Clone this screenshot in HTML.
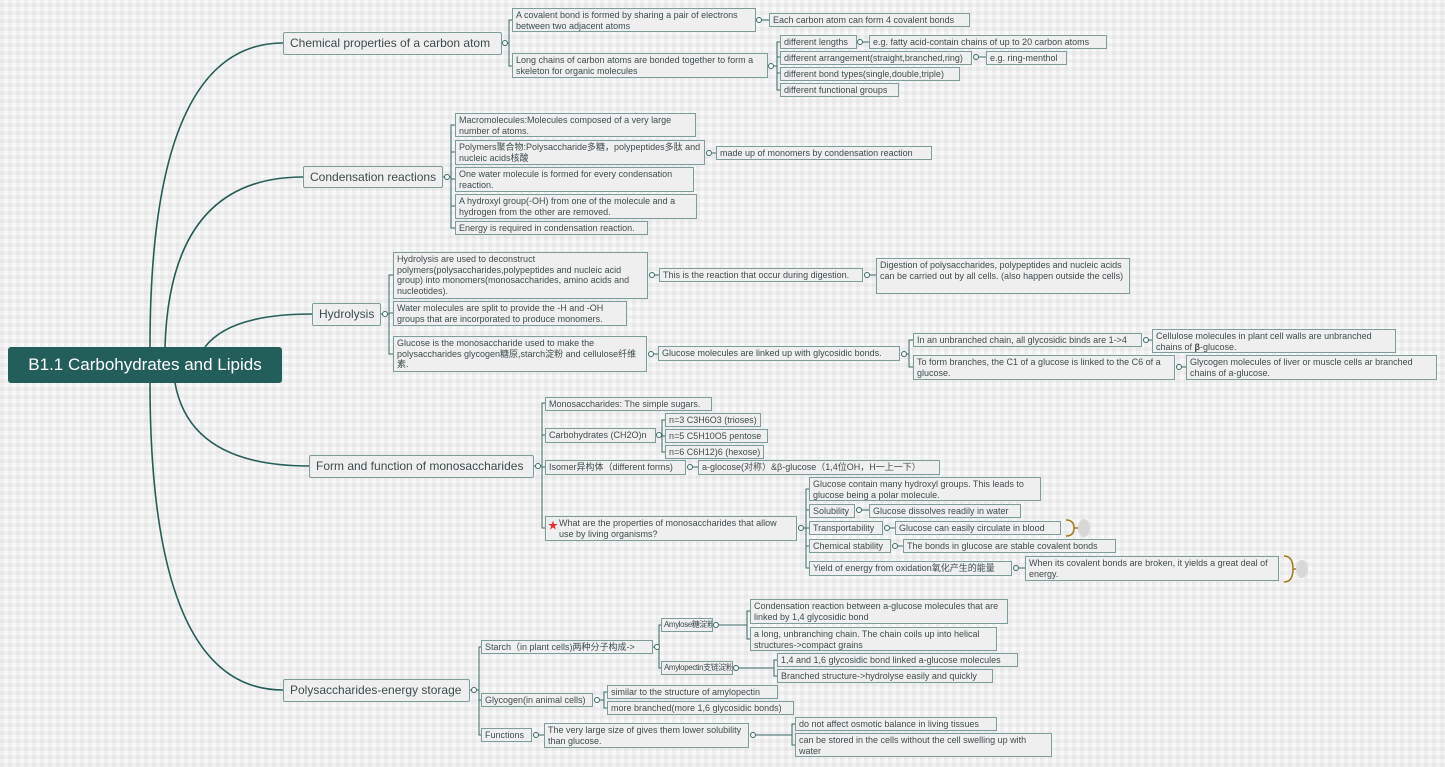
<!DOCTYPE html>
<html><head><meta charset="utf-8"><style>
html,body{margin:0;padding:0}
body{width:1445px;height:767px;position:relative;overflow:hidden;
background-color:#f8f8f8;
background-image:repeating-linear-gradient(0deg,rgba(0,0,0,0.035) 0 4px,transparent 4px 8px),repeating-linear-gradient(90deg,rgba(0,0,0,0.035) 0 4px,transparent 4px 8px);
font-family:"Liberation Sans","Noto Sans CJK SC",sans-serif;}
.n{position:absolute;box-sizing:border-box;background:#efefef;border:1px solid #7c9d99;color:#3e4c4c;font-size:9px;line-height:10.5px;padding:1px 3px;white-space:nowrap;overflow:hidden}
.w{white-space:normal}
.l1{font-size:12px;line-height:20px;padding:0 6px;border-radius:2px}
.root{position:absolute;left:8px;top:347px;width:274px;height:36px;background:#235f5a;color:#fff;font-size:17px;line-height:36px;text-align:center;border-radius:3px}
svg{position:absolute;left:0;top:0}
</style></head><body>
<svg width="1445" height="767" fill="none" stroke="#2d5e59" stroke-width="1">
<g stroke-width="1.6" stroke="#265d57">
<path d="M150,347 Q150,43 283,43"/>
<path d="M165,347 Q170,177 303,177"/>
<path d="M205,347 Q230,314 312,314"/>
<path d="M175,383 Q190,466 309,466"/>
<path d="M150,383 Q150,690 283,690"/>
</g>
<g stroke="#3a6a65">
<path d="M502,43H509M512,20H509V66H512"/>
<path d="M762,20H769"/>
<path d="M774,66H777M780,42H777V90H780M777,57H780M777,73H780"/>
<path d="M863,42H869M979,57H986"/>
<path d="M443,177H451M455,125H451V228H455M451,152H455M451,179H455M451,206H455"/>
<path d="M712,153H716"/>
<path d="M381,314H389M393,275H389V354H393M389,313H393"/>
<path d="M655,275H659M870,275H876M654,354H658"/>
<path d="M907,354H909M913,340H909V367H913"/>
<path d="M1149,340H1152M1182,367H1186"/>
<path d="M534,466H542M545,403H542V528H545M542,435H545M542,467H545"/>
<path d="M662,435H662M665,420H662V452H665M662,436H665"/>
<path d="M693,467H698"/>
<path d="M804,528H806M809,489H806V568H809M806,510H809M806,528H809M806,546H809"/>
<path d="M862,510H869M890,528H895M898,546H903M1019,568H1025"/>
<path d="M470,690H479M481,647H479V735H481M479,700H481"/>
<path d="M653,647H659M661,625H659V668H661"/>
<path d="M719,625H747M750,611H747V639H750"/>
<path d="M739,668H774M777,660H774V676H777"/>
<path d="M600,700H604M607,692H604V708H607"/>
<path d="M539,735H544M756,735H792M795,724H792V745H795"/>
</g>
<g fill="#f8f8f8" stroke="#3a6a65">
<circle cx="505" cy="43" r="2.5"/><circle cx="759" cy="20" r="2.5"/><circle cx="771" cy="66" r="2.5"/>
<circle cx="860" cy="42" r="2.5"/><circle cx="976" cy="57" r="2.5"/>
<circle cx="447" cy="177" r="2.5"/><circle cx="709" cy="153" r="2.5"/>
<circle cx="385" cy="314" r="2.5"/><circle cx="652" cy="275" r="2.5"/><circle cx="867" cy="275" r="2.5"/>
<circle cx="651" cy="354" r="2.5"/><circle cx="904" cy="354" r="2.5"/><circle cx="1146" cy="340" r="2.5"/><circle cx="1179" cy="367" r="2.5"/>
<circle cx="538" cy="466" r="2.5"/><circle cx="659" cy="435" r="2.5"/><circle cx="690" cy="467" r="2.5"/>
<circle cx="801" cy="528" r="2.5"/><circle cx="859" cy="510" r="2.5"/><circle cx="887" cy="528" r="2.5"/><circle cx="895" cy="546" r="2.5"/><circle cx="1016" cy="568" r="2.5"/>
<circle cx="474" cy="690" r="2.5"/><circle cx="657" cy="647" r="2.5"/><circle cx="716" cy="625" r="2.5"/><circle cx="736" cy="668" r="2.5"/>
<circle cx="597" cy="700" r="2.5"/><circle cx="536" cy="735" r="2.5"/><circle cx="753" cy="735" r="2.5"/>
</g>
<g stroke="#a07a20" stroke-width="1.5">
<path d="M1066,520 Q1074,520 1074,528 Q1074,536 1066,536 M1074,528H1078"/>
<path d="M1284,556 Q1293,556 1293,569 Q1293,582 1284,582 M1293,569H1296"/>
</g>
<g fill="#d8d8d8" stroke="none"><ellipse cx="1084" cy="528" rx="6" ry="9"/><ellipse cx="1302" cy="569" rx="6" ry="9"/></g>
</svg>

<div class="root">B1.1 Carbohydrates and Lipids</div>

<div class="n l1" style="left:283px;top:32px;width:219px;height:23px">Chemical properties of a carbon atom</div>
<div class="n l1" style="left:303px;top:166px;width:140px;height:22px">Condensation reactions</div>
<div class="n l1" style="left:312px;top:303px;width:69px;height:23px">Hydrolysis</div>
<div class="n l1" style="left:309px;top:455px;width:225px;height:23px">Form and function of monosaccharides</div>
<div class="n l1" style="left:283px;top:679px;width:187px;height:23px">Polysaccharides-energy storage</div>

<div class="n w" style="left:512px;top:8px;width:244px;height:24px">A covalent bond is formed by sharing a pair of electrons between two adjacent atoms</div>
<div class="n w" style="left:512px;top:53px;width:256px;height:25px">Long chains of carbon atoms are bonded together to form a skeleton for organic molecules</div>
<div class="n" style="left:769px;top:13px;width:201px;height:14px">Each carbon atom can form 4 covalent bonds</div>
<div class="n" style="left:780px;top:35px;width:77px;height:14px">different lengths</div>
<div class="n" style="left:780px;top:51px;width:192px;height:14px">different arrangement(straight,branched,ring)</div>
<div class="n" style="left:780px;top:67px;width:180px;height:14px">different bond types(single,double,triple)</div>
<div class="n" style="left:780px;top:83px;width:119px;height:14px">different functional groups</div>
<div class="n" style="left:869px;top:35px;width:238px;height:14px">e.g. fatty acid-contain chains of up to 20 carbon atoms</div>
<div class="n" style="left:986px;top:51px;width:81px;height:14px">e.g. ring-menthol</div>

<div class="n w" style="left:455px;top:113px;width:241px;height:24px">Macromolecules:Molecules composed of a very large number of atoms.</div>
<div class="n w" style="left:455px;top:140px;width:250px;height:25px">Polymers聚合物:Polysaccharide多糖，polypeptides多肽 and nucleic acids核酸</div>
<div class="n w" style="left:455px;top:167px;width:239px;height:25px">One water molecule is formed for every condensation reaction.</div>
<div class="n w" style="left:455px;top:194px;width:242px;height:25px">A hydroxyl group(-OH) from one of the molecule and a hydrogen from the other are removed.</div>
<div class="n" style="left:455px;top:221px;width:193px;height:14px">Energy is required in condensation reaction.</div>
<div class="n" style="left:716px;top:146px;width:216px;height:14px">made up of monomers by condensation reaction</div>

<div class="n w" style="left:393px;top:252px;width:255px;height:47px">Hydrolysis are used to deconstruct polymers(polysaccharides,polypeptides and nucleic acid group) into monomers(monosaccharides, amino acids and nucleotides).</div>
<div class="n w" style="left:393px;top:301px;width:234px;height:25px">Water molecules are split to provide the -H and -OH groups that are incorporated to produce monomers.</div>
<div class="n w" style="left:393px;top:336px;width:254px;height:36px">Glucose is the monosaccharide used to make the polysaccharides glycogen糖原,starch淀粉 and cellulose纤维素.</div>
<div class="n" style="left:659px;top:268px;width:204px;height:14px">This is the reaction that occur during digestion.</div>
<div class="n w" style="left:876px;top:258px;width:254px;height:36px">Digestion of polysaccharides, polypeptides and nucleic acids can be carried out by all cells. (also happen outside the cells)</div>
<div class="n" style="left:658px;top:346px;width:242px;height:15px">Glucose molecules are linked up with glycosidic bonds.</div>
<div class="n" style="left:913px;top:333px;width:229px;height:14px">In an unbranched chain, all glycosidic binds are 1-&gt;4</div>
<div class="n w" style="left:913px;top:355px;width:262px;height:25px">To form branches, the C1 of a glucose is linked to the C6 of a glucose.</div>
<div class="n w" style="left:1152px;top:329px;width:244px;height:24px">Cellulose molecules in plant cell walls are unbranched chains of <b>β</b>-glucose.</div>
<div class="n w" style="left:1186px;top:355px;width:251px;height:25px">Glycogen molecules of liver or muscle cells ar branched chains of a-glucose.</div>

<div class="n" style="left:545px;top:397px;width:167px;height:14px">Monosaccharides: The simple sugars.</div>
<div class="n" style="left:545px;top:428px;width:111px;height:15px">Carbohydrates (CH2O)n</div>
<div class="n" style="left:665px;top:413px;width:96px;height:14px">n=3 C3H6O3 (trioses)</div>
<div class="n" style="left:665px;top:429px;width:103px;height:14px">n=5 C5H10O5 pentose</div>
<div class="n" style="left:665px;top:445px;width:99px;height:14px">n=6 C6H12)6 (hexose)</div>
<div class="n" style="left:545px;top:460px;width:141px;height:15px">Isomer异构体（different forms)</div>
<div class="n" style="left:698px;top:460px;width:242px;height:15px">a-glocose(对称）&amp;β-glucose（1,4位OH，H一上一下）</div>
<div class="n w" style="left:545px;top:516px;width:252px;height:25px;padding-left:13px"><span style="position:absolute;left:2px;top:5px;color:#e53030;font-size:10px">★</span>What are the properties of monosaccharides that allow use by living organisms?</div>
<div class="n w" style="left:809px;top:477px;width:232px;height:24px">Glucose contain many hydroxyl groups. This leads to glucose being a polar molecule.</div>
<div class="n" style="left:809px;top:504px;width:46px;height:14px">Solubility</div>
<div class="n" style="left:809px;top:521px;width:74px;height:14px">Transportability</div>
<div class="n" style="left:809px;top:539px;width:82px;height:14px">Chemical stability</div>
<div class="n" style="left:809px;top:561px;width:203px;height:15px">Yield of energy from oxidation氧化产生的能量</div>
<div class="n" style="left:869px;top:504px;width:152px;height:14px">Glucose dissolves readily in water</div>
<div class="n" style="left:895px;top:521px;width:166px;height:14px">Glucose can easily circulate in blood</div>
<div class="n" style="left:903px;top:539px;width:213px;height:14px">The bonds in glucose are stable covalent bonds</div>
<div class="n w" style="left:1025px;top:556px;width:254px;height:25px">When its covalent bonds are broken, it yields a great deal of energy.</div>

<div class="n" style="left:481px;top:640px;width:172px;height:14px">Starch（in plant cells)两种分子构成-&gt;</div>
<div class="n" style="left:481px;top:693px;width:112px;height:14px">Glycogen(in animal cells)</div>
<div class="n" style="left:481px;top:728px;width:51px;height:14px">Functions</div>
<div class="n" style="left:661px;top:618px;width:52px;height:14px;font-size:8px;letter-spacing:-0.4px;padding:1px 2px">Amylose糖淀粉</div>
<div class="n" style="left:661px;top:661px;width:72px;height:14px;font-size:8px;letter-spacing:-0.4px;padding:1px 2px">Amylopectin支链淀粉</div>
<div class="n w" style="left:750px;top:599px;width:258px;height:25px">Condensation reaction between a-glucose molecules that are linked by 1,4 glycosidic bond</div>
<div class="n w" style="left:750px;top:627px;width:247px;height:24px">a long, unbranching chain. The chain coils up into helical structures-&gt;compact grains</div>
<div class="n" style="left:777px;top:653px;width:241px;height:14px">1,4 and 1,6 glycosidic bond linked a-glucose molecules</div>
<div class="n" style="left:777px;top:669px;width:216px;height:14px">Branched structure-&gt;hydrolyse easily and quickly</div>
<div class="n" style="left:607px;top:685px;width:171px;height:14px">similar to the structure of amylopectin</div>
<div class="n" style="left:607px;top:701px;width:187px;height:14px">more branched(more 1,6 glycosidic bonds)</div>
<div class="n w" style="left:544px;top:723px;width:205px;height:25px">The very large size of gives them lower solubility than glucose.</div>
<div class="n" style="left:795px;top:717px;width:202px;height:14px">do not affect osmotic balance in living tissues</div>
<div class="n w" style="left:795px;top:733px;width:257px;height:24px">can be stored in the cells without the cell swelling up with water</div>
</body></html>
